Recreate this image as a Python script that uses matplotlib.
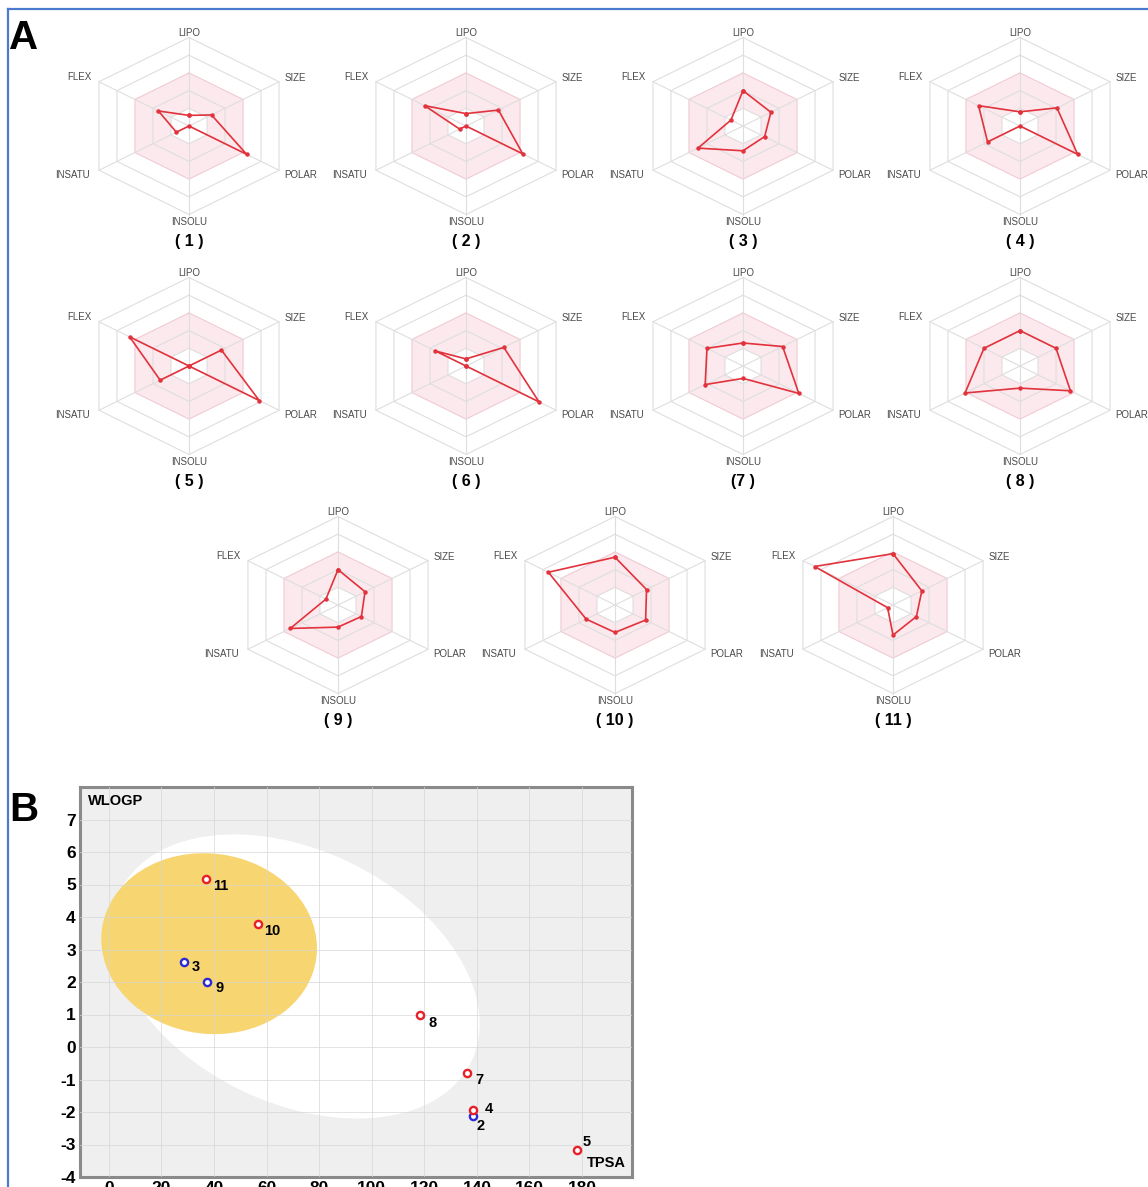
import numpy as np
import matplotlib
matplotlib.use('Agg')
import matplotlib.pyplot as plt
from matplotlib.patches import Ellipse
from matplotlib.lines import Line2D

plt.rcParams['font.family'] = ['Liberation Sans', 'DejaVu Sans']
plt.rcParams['axes.unicode_minus'] = False

# Radar de biodisponibilidade (escala 0-5 em cada eixo)
eixos = ['LIPO', 'SIZE', 'POLAR', 'INSOLU', 'INSATU', 'FLEX']
compostos = ['1', '2', '3', '4', '5', '6', '7', '8', '9', '10', '11']
lipo = [0.6, 0.7, 2.0, 0.8, 0.0, 0.4, 1.3, 2.0, 2.0, 2.7, 2.9]
size = [1.25, 1.8, 1.55, 2.05, 1.8, 2.1, 2.2, 2.0, 1.5, 1.75, 1.6]
polar = [3.2, 3.15, 1.2, 3.2, 3.9, 4.05, 3.1, 2.8, 1.3, 1.7, 1.3]
insolu = [0.0, 0.0, 1.4, 0.0, 0.0, 0.0, 0.7, 1.25, 1.25, 1.55, 1.7]
insatu = [0.7, 0.35, 2.5, 1.8, 1.6, 0.0, 2.1, 3.05, 2.65, 1.6, 0.3]
flex = [1.7, 2.3, 0.67, 2.3, 3.3, 1.7, 2.0, 2.0, 0.67, 3.7, 4.35]

# BOILED-Egg (TPSA x WLOGP)
egg_rotulos = ['2', '3', '4', '5', '7', '8', '9', '10', '11']
tpsa = [138.6, 28.5, 138.6, 177.9, 136.3, 118.2, 37.4, 56.9, 36.8]
wlogp = [-2.12, 2.61, -1.93, -3.16, -0.81, 0.97, 1.99, 3.79, 5.17]
pgp = [True, True, False, False, False, False, True, False, False]

W, H = 1148, 1187
fig = plt.figure(figsize=(W / 100, H / 100), dpi=100)

VERMELHO = '#e2323c'
GRADE = '#dedede'
ang = np.deg2rad([90, 30, -30, -90, -150, 150])
UX, UY = 20.8, 17.7  # pixels por nível

# posições dos radares (centro em pixels)
centros = [(189, 126), (466, 126), (743, 126), (1020, 126),
           (189, 366), (466, 366), (743, 366), (1020, 366),
           (338, 605), (615, 605), (893, 605)]

pos_rotulos = [(0, 5.25, 'center'), (4.6, 2.7, 'left'), (4.6, -2.77, 'left'),
               (0, -5.42, 'center'), (-4.75, -2.77, 'right'), (-4.7, 2.77, 'right')]


def fecha(v):
    return np.append(v, v[0])


def radar(cx, cy, valores, titulo):
    ax = fig.add_axes([(cx - 140) / W, 1 - (cy + 125) / H, 280 / W, 235 / H])
    ax.set_xlim(-140 / UX, 140 / UX)
    ax.set_ylim(-125 / UY, 110 / UY)
    ax.axis('off')
    c, s = np.cos(ang), np.sin(ang)

    # faixa ótima em rosa (níveis 1 a 3)
    ax.fill(3 * c, 3 * s, color='#fce9ed', lw=0, zorder=0)
    ax.fill(1 * c, 1 * s, color='white', lw=0, zorder=0)
    for n in range(1, 6):
        cor = '#f0cbd3' if n == 3 else GRADE
        ax.plot(fecha(n * c), fecha(n * s), color=cor, lw=0.8, zorder=1)
    for ci, si in zip(c, s):
        ax.plot([0, 5 * ci], [0, 5 * si], color=GRADE, lw=0.8, zorder=1)

    v = np.array(valores)
    ax.plot(fecha(v * c), fecha(v * s), color=VERMELHO, lw=1.2, marker='o',
            ms=2.2, zorder=3)

    for nome, (x, y, ha) in zip(eixos, pos_rotulos):
        ax.text(x, y, nome, ha=ha, va='center', fontsize=7, color='#4a4a4a')
    ax.text(0, -6.55, '( %s )' % titulo if titulo != '7' else '(7 )',
            ha='center', va='center', fontsize=11.5, fontweight='bold')


for i, nome in enumerate(compostos):
    valores = [lipo[i], size[i], polar[i], insolu[i], insatu[i], flex[i]]
    radar(centros[i][0], centros[i][1], valores, nome)

# Painel B
axb = fig.add_axes([80 / W, 1 - 1177 / H, 552 / W, 390 / H])
axb.set_facecolor('#efefef')
axb.set_xlim(-11, 199)
axb.set_ylim(-4, 8)

axb.add_patch(Ellipse((71.05, 2.17), 140.0, 8.24, angle=-1.2,
                      facecolor='white', edgecolor='none', zorder=1))
axb.add_patch(Ellipse((38.12, 3.18), 82.06, 5.56, angle=-0.2,
                      facecolor='#f7d570', edgecolor='none', zorder=2))

axb.set_xticks(range(0, 181, 20))
axb.set_yticks(range(-4, 8))
axb.grid(True, color='#d6d6d6', lw=0.7, alpha=0.7, zorder=3)
axb.set_axisbelow(False)
axb.tick_params(length=0, labelsize=12.5, pad=3)
for t in axb.get_xticklabels() + axb.get_yticklabels():
    t.set_fontweight('bold')
for sp in axb.spines.values():
    sp.set_color('#8a8a8a')
    sp.set_linewidth(2.2)

desloc = {'2': (7.4, -10.3), '3': (12.4, -4.5), '4': (15.6, 0.5), '5': (10.6, 8.1),
          '7': (12.4, -6.5), '8': (13.2, -7.3), '9': (12.4, -5.8),
          '10': (13.5, -7.4), '11': (15, -7.5)}
for x, y, r, azul in zip(tpsa, wlogp, egg_rotulos, pgp):
    cor = '#2a2ad6' if azul else '#e8202a'
    axb.plot(x, y, marker='o', ms=5.2, mfc='white', mec=cor, mew=1.7,
             zorder=5, clip_on=False)
    dx, dy = desloc[r]
    axb.annotate(r, (x, y), xytext=(dx * 0.72, dy * 0.72), textcoords='offset points',
                 ha='center', va='center', fontsize=10.5, fontweight='bold', zorder=6)

axb.text(0.015, 0.965, 'WLOGP', transform=axb.transAxes, ha='left', va='center',
         fontsize=10.5, fontweight='bold', zorder=6)
axb.text(0.988, 0.035, 'TPSA', transform=axb.transAxes, ha='right', va='center',
         fontsize=10.5, fontweight='bold', zorder=6)

# letras dos painéis e moldura azul
fig.text(24 / W, 1 - 38 / H, 'A', ha='center', va='center', fontsize=29,
         fontweight='bold')
fig.text(24 / W, 1 - 810 / H, 'B', ha='center', va='center', fontsize=29,
         fontweight='bold')
fig.add_artist(Line2D([8 / W, 8 / W], [0, 1 - 9 / H], color='#4a7bd0', lw=1.6))
fig.add_artist(Line2D([8 / W, 1], [1 - 9 / H, 1 - 9 / H], color='#4a7bd0', lw=1.6))

fig.savefig('out.png', dpi=100, facecolor='white')
